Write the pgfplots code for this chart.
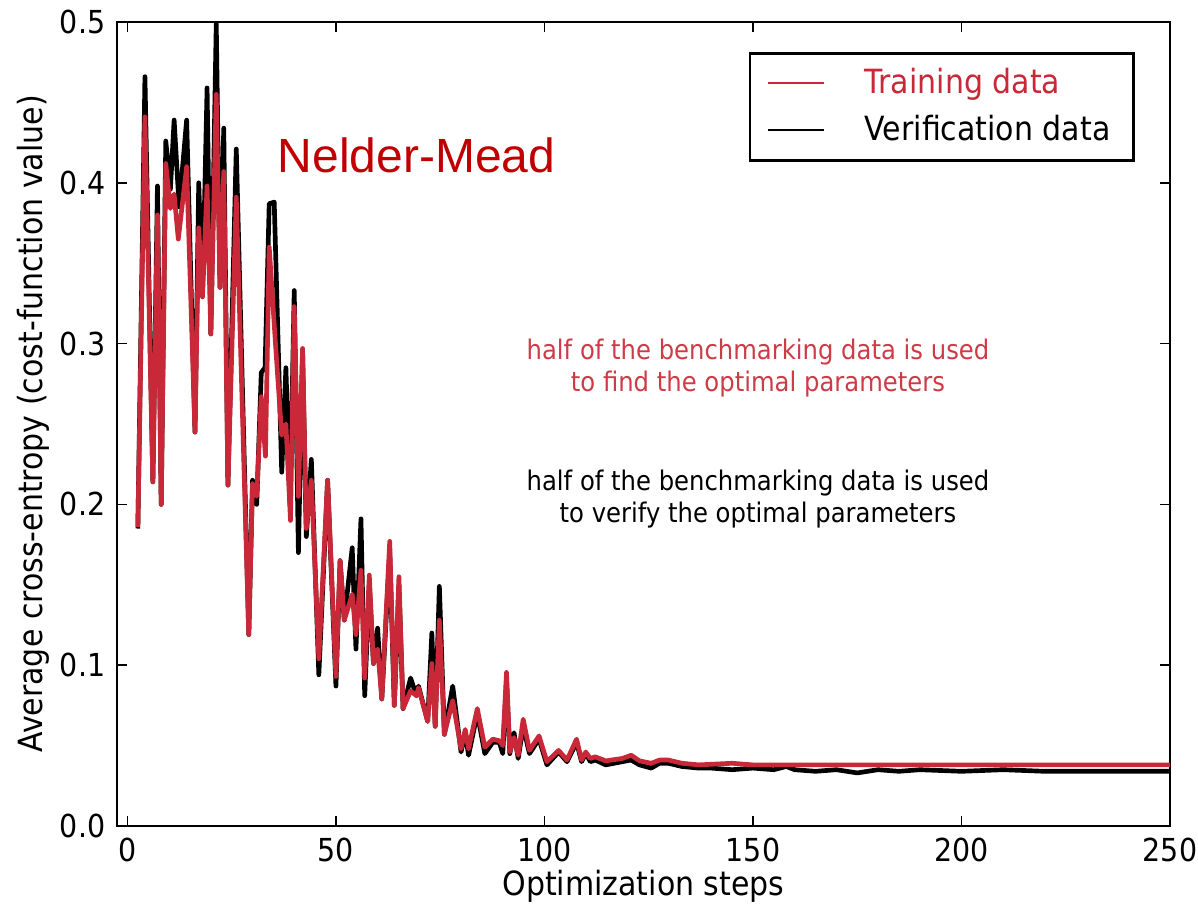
\documentclass[border=0pt]{standalone}
\usepackage{pgfplots}
\pgfplotsset{compat=1.18}
\usepackage{fontspec}
\setmainfont{DejaVu Sans}[FakeStretch=0.9]
\newfontfamily\arialfont{Liberation Sans}
\definecolor{trainred}{RGB}{200,40,55}
\definecolor{titlered}{RGB}{192,0,0}
\definecolor{notered}{RGB}{205,60,70}
\begin{document}
\begin{tikzpicture}
\useasboundingbox (-35.1pt,-24.6pt) rectangle (324.3pt,247.8pt);
\begin{axis}[
  scale only axis, width=315.9pt, height=241.2pt,
  xmin=-2.5, xmax=250, ymin=0, ymax=0.5,
  xtick={0,50,100,150,200,250},
  ytick={0,0.1,0.2,0.3,0.4,0.5},
  tick align=inside,
  major tick length=3pt,
  /pgf/number format/assume math mode=true,
  yticklabel style={/pgf/number format/.cd, fixed, fixed zerofill, precision=1},
  tick label style={font=\fontsize{9.5}{11}\selectfont, black},
  label style={font=\fontsize{10}{12}\selectfont, black},
  xlabel={Optimization steps},
  ylabel={Average cross-entropy (cost-function value)},
  xlabel style={at={(axis description cs:0.5,-0.0753)}, anchor=center},
  ylabel style={at={(axis description cs:-0.0798,0.5)}, anchor=center},
  axis line style={line width=0.6pt, black},
  every tick/.style={black, line width=0.5pt},
  legend style={at={(0.9668,0.9627)}, anchor=north east, draw=black, line width=0.8pt,
    font=\fontsize{10}{12}\selectfont, inner xsep=5pt, inner ysep=2.5pt, row sep=1pt, column sep=10pt},
  legend cell align=left,
  legend image code/.code={\draw[#1, line width=0.6pt] (0pt,0pt) -- (16.8pt,0pt);},
]
% Verification data (black)
\addplot[black, line width=1.4pt, line join=round, forget plot] coordinates {
(2.5,0.185) (4.2,0.466) (6.1,0.214) (7.2,0.398) (8.1,0.200) (9.2,0.426) (10.3,0.396)
(11.2,0.439) (12.4,0.385) (14.2,0.439) (16.2,0.245) (17.1,0.400) (18.0,0.330) (19.1,0.459)
(20.0,0.306) (21.3,0.499) (22.2,0.335) (23.1,0.434) (24.1,0.212) (26.1,0.421) (29.1,0.119)
(30.0,0.215) (31.0,0.200) (32.1,0.282) (33.0,0.285) (34.0,0.387) (35.2,0.388) (37.0,0.220)
(38.0,0.285) (39.0,0.200) (40.0,0.333) (41.0,0.170) (42.0,0.295) (42.9,0.180) (44.1,0.228)
(45.9,0.094) (48.0,0.215) (50.0,0.087) (51.0,0.165) (52.0,0.128) (53.9,0.173) (54.8,0.110)
(56.0,0.191) (56.9,0.081) (58.0,0.150) (59.0,0.101) (60.0,0.123) (61.0,0.079) (62.9,0.170)
(64.0,0.075) (65.1,0.150) (66.1,0.073) (67.9,0.092) (69.3,0.081) (69.8,0.087) (72.0,0.065)
(73.0,0.120) (73.8,0.062) (74.8,0.149) (76.0,0.057) (78.0,0.087) (80.0,0.046) (81.0,0.058)
(81.8,0.044) (83.9,0.070) (85.7,0.045) (87.6,0.052) (89.2,0.052) (90.0,0.045) (90.9,0.090)
(91.7,0.045) (92.7,0.058) (93.7,0.042) (94.9,0.062) (96.4,0.045) (98.7,0.054) (100.6,0.038)
(103.4,0.046) (105.4,0.040) (107.7,0.052) (108.9,0.040) (109.9,0.045) (111,0.040) (112.2,0.041)
(114.7,0.038) (118.7,0.040) (120.8,0.041) (122.8,0.038) (125.6,0.036) (127.6,0.039) (129.7,0.039)
(133,0.037) (137,0.036) (140,0.036) (145,0.035) (150,0.036) (155,0.035) (158,0.037) (160,0.035)
(165,0.034) (170,0.035) (175,0.033) (180,0.035) (185,0.034) (190,0.035) (200,0.034) (210,0.035)
(220,0.034) (230,0.034) (240,0.034) (250,0.034)
};
% Training data (red)
\addplot[trainred, line width=1.4pt, line join=round, forget plot] coordinates {
(2.5,0.186) (4.2,0.441) (6.1,0.214) (7.2,0.380) (8.1,0.200) (9.2,0.412) (10.3,0.384)
(11.2,0.393) (12.2,0.365) (14.2,0.410) (16.2,0.245) (17.1,0.372) (18.0,0.329) (19.1,0.398)
(20.0,0.306) (21.3,0.455) (22.2,0.335) (23.1,0.407) (24.1,0.212) (26.1,0.391) (29.1,0.119)
(30.0,0.213) (31.0,0.205) (32.1,0.267) (33.1,0.230) (34.0,0.360) (35.5,0.300) (37.0,0.243)
(38.0,0.250) (39.1,0.190) (40.0,0.323) (41.0,0.205) (42.0,0.297) (42.9,0.185) (44.1,0.215)
(45.9,0.104) (48.0,0.215) (50.0,0.093) (51.0,0.165) (52.0,0.128) (53.9,0.144) (54.8,0.119)
(56.0,0.159) (56.9,0.092) (58.0,0.156) (59.0,0.101) (60.0,0.110) (61.0,0.079) (62.9,0.177)
(64.0,0.075) (65.1,0.155) (66.1,0.073) (67.9,0.084) (69.3,0.081) (69.8,0.086) (72.0,0.065)
(73.0,0.101) (73.8,0.062) (74.8,0.128) (76.0,0.057) (78.0,0.078) (80.0,0.048) (81.0,0.060)
(81.8,0.048) (83.9,0.073) (85.7,0.049) (87.6,0.054) (89.2,0.053) (90.0,0.050) (90.9,0.0955)
(91.7,0.046) (92.7,0.055) (93.7,0.044) (94.9,0.0664) (96.4,0.047) (98.7,0.056) (100.6,0.040)
(103.4,0.047) (105.4,0.041) (107.7,0.054) (108.9,0.041) (109.9,0.046) (111,0.042) (112.2,0.043)
(114.7,0.0405) (118.7,0.042) (120.8,0.044) (122.8,0.0405) (125.6,0.039) (127.6,0.041) (129.7,0.041)
(133,0.039) (137,0.038) (145,0.039) (150,0.038) (160,0.038) (170,0.038) (180,0.038) (190,0.038)
(200,0.038) (210,0.038) (220,0.038) (230,0.038) (240,0.038) (250,0.038)
};
\addlegendimage{trainred, line width=0.6pt}
\addlegendentry{\textcolor{trainred}{Training data}}
\addlegendimage{black, line width=0.6pt}
\addlegendentry{Verification data}
\node[anchor=center, text=titlered, font=\arialfont\fontsize{14.4}{16}\selectfont] at (axis cs:69.3,0.417) {Nelder-Mead};
\node[anchor=center, align=center, text=notered, font=\fontsize{8.1}{9.6}\selectfont] at (axis cs:151.2,0.2847) {half of the benchmarking data is used\\to find the optimal parameters};
\node[anchor=center, align=center, text=black, font=\fontsize{8.1}{9.6}\selectfont] at (axis cs:151.2,0.2036) {half of the benchmarking data is used\\to verify the optimal parameters};
\end{axis}
\end{tikzpicture}
\end{document}
